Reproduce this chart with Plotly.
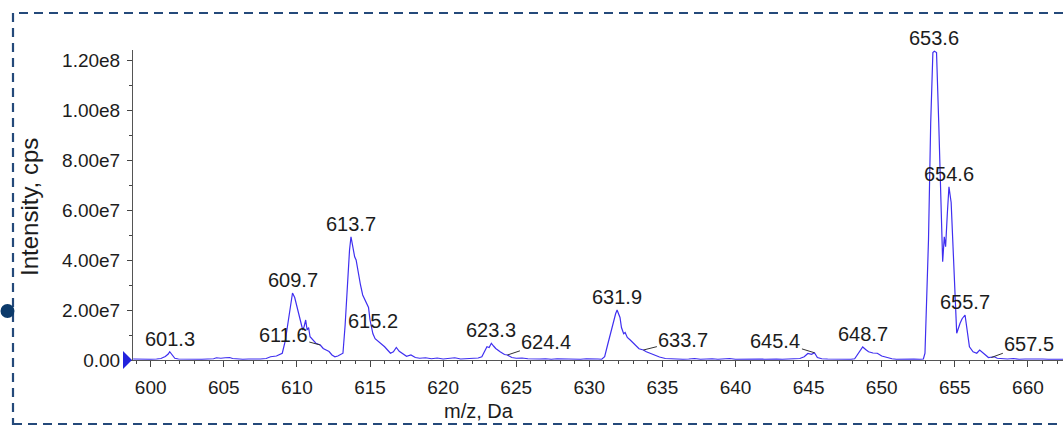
import plotly.graph_objects as go

# Profile spectrum: m/z (Da) and intensity (x1e6 cps)
mz = [
    598.8, 599.2, 599.6, 600.0, 600.4, 600.7, 601.0, 601.2, 601.3, 601.45,
    601.65, 601.9, 602.3, 602.7, 603.1, 603.5, 603.9, 604.3, 604.5, 604.8,
    605.1, 605.4, 605.6, 605.9, 606.3, 606.7, 607.1, 607.5, 607.9, 608.2,
    608.6, 609.0, 609.2, 609.4, 609.55, 609.7, 609.85, 610.0, 610.2, 610.4,
    610.5, 610.6, 610.7, 610.8, 610.9, 611.1, 611.3, 611.6, 611.8, 612.0,
    612.2, 612.4, 612.6, 612.8, 613.0, 613.15, 613.3, 613.45, 613.6, 613.7,
    613.85, 613.95, 614.05, 614.2, 614.35, 614.5, 614.7, 614.9, 615.0, 615.1,
    615.2, 615.35, 615.5, 615.7, 616.0, 616.2, 616.4, 616.6, 616.8, 617.0,
    617.2, 617.5, 617.8, 618.1, 618.4, 618.8, 619.2, 619.6, 620.0, 620.4,
    620.8, 621.2, 621.6, 622.0, 622.4, 622.65, 622.85, 623.0, 623.15, 623.3,
    623.45, 623.6, 623.9, 624.2, 624.4, 624.7, 625.0, 625.4, 625.8, 626.2,
    626.6, 627.0, 627.4, 627.8, 628.2, 628.6, 629.0, 629.4, 629.8, 630.2,
    630.6, 630.85, 631.05, 631.25, 631.45, 631.65, 631.8, 631.9, 632.0, 632.1,
    632.2, 632.35, 632.45, 632.6, 632.8, 633.0, 633.2, 633.4, 633.7, 633.9,
    634.2, 634.5, 634.8, 635.2, 635.6, 636.0, 636.4, 636.8, 637.2, 637.6,
    638.0, 638.4, 638.8, 639.2, 639.6, 640.0, 640.4, 640.8, 641.2, 641.6,
    642.0, 642.4, 642.8, 643.2, 643.6, 644.0, 644.4, 644.7, 644.95, 645.2,
    645.4, 645.6, 645.9, 646.3, 646.7, 647.1, 647.5, 647.9, 648.15, 648.4,
    648.7, 648.9, 649.1, 649.4, 649.7, 650.0, 650.3, 650.7, 651.0, 651.4,
    651.8, 652.2, 652.6, 652.85, 652.96, 653.1, 653.2, 653.35, 653.5, 653.6,
    653.75, 653.9, 654.05, 654.17, 654.28, 654.37, 654.49, 654.6, 654.75, 654.95,
    655.13, 655.36, 655.5, 655.7, 655.85, 656.0, 656.25, 656.5, 656.7, 656.9,
    657.1, 657.3, 657.5, 657.7, 657.9, 658.2, 658.6, 659.0, 659.4, 659.8,
    660.2, 660.6, 661.0, 661.4, 661.8, 662.4,
]
intensity_e6 = [
    0.4, 0.3, 0.5, 0.3, 0.4, 0.6, 1.4, 2.4, 3.3, 2.0,
    0.7, 0.4, 0.3, 0.4, 0.2, 0.3, 0.4, 0.5, 0.9, 0.7,
    0.9, 1.0, 0.6, 0.4, 0.3, 0.4, 0.3, 0.4, 0.6, 1.3,
    1.6, 2.7, 7.5, 16.0, 21.5, 26.8, 25.0, 21.3, 17.5, 12.0,
    13.5, 16.0, 12.0, 13.0, 9.3, 8.0, 6.7, 6.0, 4.6, 4.0,
    3.4, 2.0, 1.3, 1.6, 2.2, 2.7, 14.0, 30.0, 44.0, 49.3,
    44.0, 41.3, 40.0, 34.0, 30.0, 26.0, 23.5, 21.0, 16.0, 13.5,
    10.5, 8.5, 7.8, 6.7, 5.3, 4.0, 2.7, 3.3, 5.0, 3.5,
    2.7, 1.5, 2.0, 1.0, 0.7, 0.9, 0.5, 0.8, 0.4, 0.6,
    0.9, 0.4, 0.6, 0.5, 0.8, 1.3, 3.5, 5.3, 5.0, 6.7,
    5.6, 4.6, 3.3, 2.2, 2.0, 1.0, 0.7, 0.8, 0.5, 0.6,
    0.4, 0.5, 0.3, 0.5, 0.4, 0.3, 0.4, 0.3, 0.5, 0.3,
    0.4, 0.3, 1.3, 6.0, 11.0, 15.5, 18.5, 20.0, 18.0, 17.0,
    13.0, 10.5, 11.0, 9.0, 8.0, 6.7, 5.5, 4.5, 4.0, 3.3,
    2.6, 1.8, 1.2, 0.6, 0.4, 0.5, 0.3, 0.4, 0.6, 0.3,
    0.4, 0.5, 0.3, 0.4, 0.6, 0.3, 0.4, 0.3, 0.5, 0.4,
    0.3, 0.5, 0.4, 0.3, 0.5, 0.4, 0.6, 1.3, 2.6, 2.3,
    2.9, 1.0, 0.5, 0.4, 0.3, 0.5, 0.4, 0.3, 0.5, 2.7,
    5.2, 4.2, 3.3, 2.8, 2.7, 1.6, 1.0, 0.5, 0.3, 0.4,
    0.3, 0.4, 0.3, 0.4, 2.7, 25.0, 48.0, 94.7, 123.0, 123.5,
    123.0, 95.0, 62.0, 39.3, 49.3, 45.3, 58.7, 69.3, 63.0, 34.7,
    10.7, 14.7, 16.5, 18.0, 12.0, 5.3, 3.3, 2.7, 4.0, 2.8,
    2.0, 1.0, 1.0, 1.3, 0.7, 0.5, 0.4, 0.6, 0.3, 0.4,
    0.5, 0.3, 0.4, 0.3, 0.4, 0.3,
]
intensity = [v * 1e6 for v in intensity_e6]

# Labelled peaks (m/z)
peak_labels = [601.3, 609.7, 611.6, 613.7, 615.2, 623.3, 624.4, 631.9,
               633.7, 645.4, 648.7, 653.6, 654.6, 655.7, 657.5]

# Axis ticks
x_ticks = [600, 605, 610, 615, 620, 625, 630, 635, 640, 645, 650, 655, 660]
y_ticks = [0, 2e7, 4e7, 6e7, 8e7, 1e8, 1.2e8]
y_tick_text = ["0.00", "2.00e7", "4.00e7", "6.00e7", "8.00e7", "1.00e8", "1.20e8"]

FONT = "Liberation Sans, Arial, sans-serif"
TEXT = "#1c1c1c"

# plot area in pixels
L, T, W, H = 133, 50, 930, 310
X_RANGE = [598.79, 662.4]
Y_RANGE = [0, 1.24e8]


def px(x):
    return (x - L) / W


def py(y):
    return (T + H - y) / H


fig = go.Figure()
fig.add_trace(go.Scatter(
    x=mz, y=intensity, mode="lines",
    line=dict(color="#3f2ff0", width=1.2),
    hoverinfo="skip", showlegend=False,
))

# labels with leader lines: pixel offset of the text from the point
leader = {611.6: (-37, -10), 624.4: (39, -13), 633.7: (40, -10),
          645.4: (-39, -12), 657.5: (38, -14)}

annotations = []
for p in peak_labels:
    yi = intensity[mz.index(p)]
    a = dict(x=p, y=yi, xref="x", yref="y", text=f"{p:.1f}",
             font=dict(family=FONT, size=20, color=TEXT))
    if p in leader:
        ax, ay = leader[p]
        a.update(showarrow=True, arrowhead=0, arrowwidth=1, arrowcolor="#333",
                 ax=ax, ay=ay, standoff=0)
    else:
        a.update(showarrow=False, yanchor="bottom", xanchor="center", yshift=0)
    annotations.append(a)

annotations.append(dict(text="m/z, Da", x=px(479), y=py(411.5), xref="paper", yref="paper",
                        showarrow=False, xanchor="center", yanchor="middle",
                        font=dict(family=FONT, size=20, color=TEXT)))
annotations.append(dict(text="Intensity, cps", x=px(29), y=py(207), xref="paper", yref="paper",
                        showarrow=False, xanchor="center", yanchor="middle", textangle=-90,
                        font=dict(family=FONT, size=24, color=TEXT)))

shapes = [
    # dashed frame
    dict(type="rect", xref="paper", yref="paper",
         x0=px(13), x1=px(1075), y0=py(424), y1=py(13),
         line=dict(color="#24497a", width=2.2, dash="9px,6px"), layer="below"),
    # connector dot on the frame
    dict(type="circle", xref="paper", yref="paper",
         x0=px(0.5), x1=px(14.5), y0=py(318), y1=py(304),
         fillcolor="#0c3a6a", line=dict(width=0)),
    # baseline marker at the origin (left end of the x axis)
    dict(type="path", xref="paper", yref="paper", xsizemode="pixel", ysizemode="pixel",
         xanchor=0, yanchor=0, path="M -10 9 L -1 0 L -10 -9 Z",
         fillcolor="#2222dd", line=dict(width=0)),
]

fig.update_layout(
    width=1063, height=426,
    margin=dict(l=L, r=1063 - L - W, t=T, b=426 - T - H, pad=0),
    paper_bgcolor="white", plot_bgcolor="white",
    font=dict(family=FONT, size=19, color=TEXT),
    annotations=annotations, shapes=shapes,
    xaxis=dict(
        range=X_RANGE, tickmode="array", tickvals=x_ticks,
        ticks="outside", ticklen=6, tickwidth=1, tickcolor="#444",
        showline=True, linecolor="#555", linewidth=1,
        showgrid=False, zeroline=False, ticklabelstandoff=4,
        tickfont=dict(family=FONT, size=19, color=TEXT),
        minor=dict(dtick=1, tick0=600, ticks="outside", ticklen=3, tickcolor="#444", showgrid=False),
    ),
    yaxis=dict(
        range=Y_RANGE, tickmode="array", tickvals=y_ticks, ticktext=y_tick_text,
        ticks="outside", ticklen=5, tickwidth=1, tickcolor="#444",
        showline=True, linecolor="#555", linewidth=1,
        showgrid=False, zeroline=False, ticklabelstandoff=3,
        tickfont=dict(family=FONT, size=19, color=TEXT),
        minor=dict(dtick=1e7, tick0=0, ticks="outside", ticklen=3, tickcolor="#444", showgrid=False),
    ),
)

fig.write_html("out.html")
